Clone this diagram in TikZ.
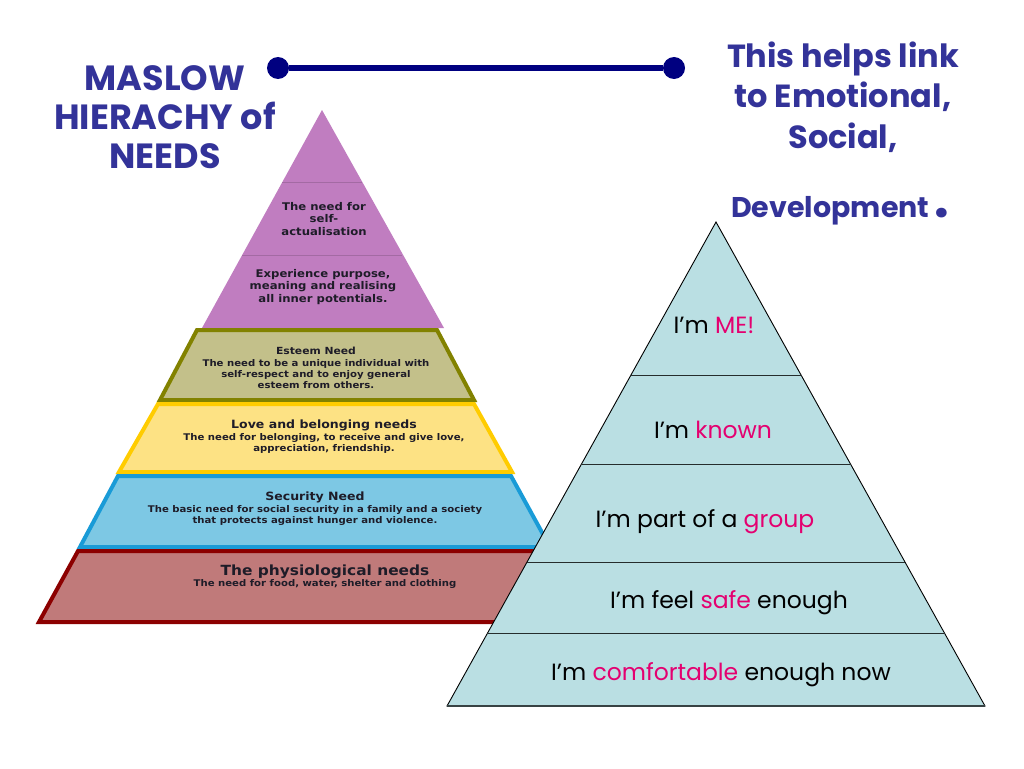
\documentclass[tikz,border=0pt]{standalone}
\usepackage{fontspec}
\setmainfont{DejaVu Sans}
\newfontfamily\needfont{DejaVu Sans}[FakeStretch=1.1]
\newfontfamily\comicfont{Poppins}
\usetikzlibrary{positioning, calc}
\definecolor{maslowblue}{RGB}{51,51,153}
\definecolor{linkblue}{RGB}{0,0,128}
\definecolor{pinkword}{RGB}{228,0,112}
\definecolor{needtext}{RGB}{30,28,40}
\definecolor{selfpurple}{RGB}{192,125,192}
\definecolor{esteemfill}{RGB}{195,192,138}
\definecolor{esteemline}{RGB}{130,130,0}
\definecolor{lovefill}{RGB}{253,226,132}
\definecolor{loveline}{RGB}{255,204,0}
\definecolor{safefill}{RGB}{125,200,228}
\definecolor{safeline}{RGB}{25,155,215}
\definecolor{bodyfill}{RGB}{192,122,122}
\definecolor{bodyline}{RGB}{140,0,0}
\definecolor{stagefill}{RGB}{186,223,227}

\begin{document}
\begin{tikzpicture}[x=1pt, y=-1pt,
    heading/.style={font=\comicfont\bfseries\fontsize{32}{40.5}\selectfont, text=maslowblue, align=center, inner sep=0pt},
    band/.style={line width=4pt, line join=miter},
    needtitle/.style={font=\needfont\bfseries\fontsize{11.4}{12}\selectfont, text=needtext, anchor=base, inner sep=0pt, text depth=2pt},
    needbody/.style={font=\needfont\bfseries\fontsize{9.2}{11}\selectfont, text=needtext, align=center, inner sep=0pt},
    selftext/.style={font=\needfont\bfseries\fontsize{10.6}{12.5}\selectfont, text=needtext, align=center, inner sep=0pt},
    stage/.style={font=\comicfont\fontsize{23.5}{24}\selectfont, anchor=base, inner sep=0pt},
    stageline/.style={draw=black!80!stagefill, line width=1pt},
    dotend/.style={circle, fill=linkblue, minimum size=22pt, inner sep=0pt},
    linkline/.style={draw=linkblue, line width=6pt}
]
\useasboundingbox[fill=white] (0,0) rectangle (1024,768);

% title and link bar
\node[heading, font=\comicfont\bfseries\fontsize{35}{39}\selectfont] (maslow) at (165,117) {MASLOW\\HIERACHY of\\NEEDS};
\node[dotend] (linkL) at (278,68) {};
\node[dotend] (linkR) at (674,68) {};
\draw[linkline] (linkL) -- (linkR);
\node[heading] (helps) at (843,97) {This helps link\\to Emotional,\\Social,};
\node[heading, font=\comicfont\bfseries\fontsize{28.5}{30}\selectfont, anchor=base] (devel) at (840,217) {Development\,{\fontsize{52}{52}\selectfont.}};

% Maslow pyramid
\fill[selfpurple] (322,110) -- (444,328) -- (202,328) -- cycle;
\draw[selfpurple!85!black, line width=0.6pt] (282,182) -- (362,182);
\draw[selfpurple!85!black, line width=0.6pt] (242,255) -- (402,255);
\draw[band, fill=esteemfill, draw=esteemline] (197,330) -- (437,330) -- (474,400) -- (160,400) -- cycle;
\draw[band, fill=lovefill, draw=loveline] (158,404) -- (474,404) -- (512,472) -- (119,472) -- cycle;
\draw[band, fill=safefill, draw=safeline] (118,476) -- (511,476) -- (550,547) -- (80,547) -- cycle;
\draw[band, fill=bodyfill, draw=bodyline] (78,551) -- (553,551) -- (591,622) -- (39,622) -- cycle;

\node[selftext] (self) at (324,219) {The need for\\self-\\actualisation};
\node[selftext] (purpose) at (323,287) {Experience purpose,\\meaning and realising\\all inner potentials.};

\node[needtitle, font=\needfont\bfseries\fontsize{9.8}{12}\selectfont] (esteem) at (316,354) {Esteem Need};
\node[needbody, below=3pt of esteem] (esteemb) {The need to be a unique individual with\\self-respect and to enjoy general\\esteem from others.};
\node[needtitle] (love) at (324,428) {Love and belonging needs};
\node[needbody, below=3pt of love] (loveb) {The need for belonging, to receive and give love,\\appreciation, friendship.};
\node[needtitle] (safety) at (315,500) {Security Need};
\node[needbody, below=3pt of safety] (safetyb) {The basic need for social security in a family and a society\\that protects against hunger and violence.};
\node[needtitle, font=\needfont\bfseries\fontsize{14}{14}\selectfont] (physio) at (325,575) {The physiological needs};
\node[needbody, below=2.5pt of physio] (physiob) {The need for food, water, shelter and clothing};

% development pyramid
\coordinate (rtop) at (716,222);
\coordinate (rbl) at (447,706);
\coordinate (rbr) at (985,706);
\draw[fill=stagefill, draw=black, line width=0.9pt] (rtop) -- (rbr) -- (rbl) -- cycle;
\foreach \t in {0.318,0.502,0.7025,0.851}
    \draw[stageline] ($(rtop)!\t!(rbl)$) -- ($(rtop)!\t!(rbr)$);
\draw[draw=black!70!stagefill, line width=1.6pt] (rbl) -- (rbr);

\node[stage] (me) at (714,333) {I’m \textcolor{pinkword}{ME!}};
\node[stage] (known) at (713,438) {I’m \textcolor{pinkword}{known}};
\node[stage] (group) at (705,527) {I’m part of a \textcolor{pinkword}{group}};
\node[stage] (safe) at (729,608) {I’m feel \textcolor{pinkword}{safe} enough};
\node[stage] (comfort) at (721,680) {I’m \textcolor{pinkword}{comfortable} enough now};

\end{tikzpicture}
\end{document}
